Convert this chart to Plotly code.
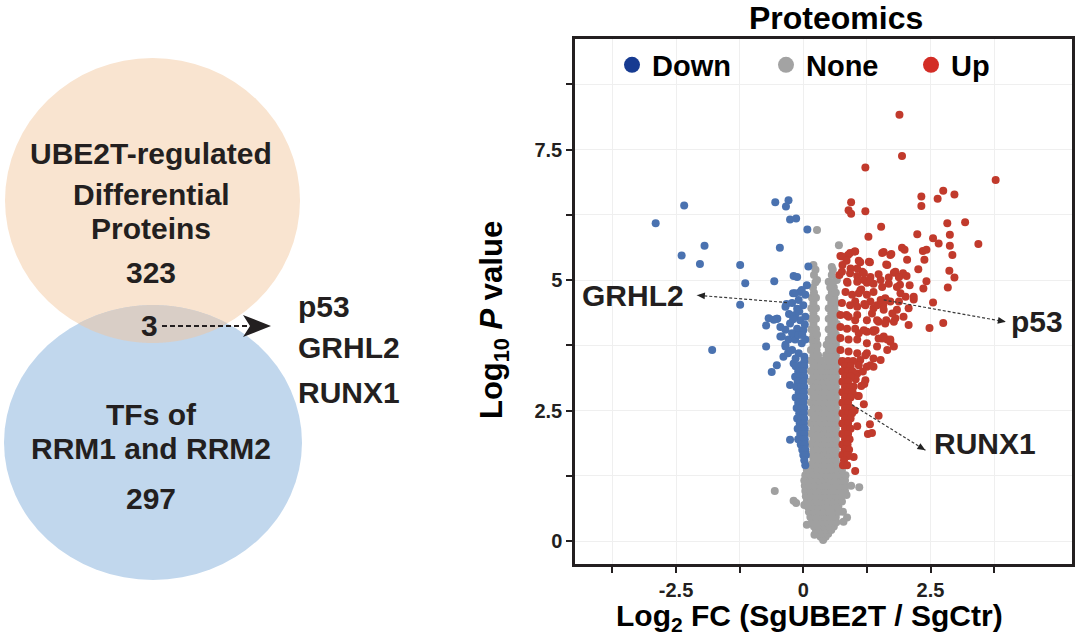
import numpy as np
import plotly.graph_objects as go

# ---------------- Venn data ----------------
SET_A_LINES = ["UBE2T-regulated", "Differential", "Proteins"]
SET_A_COUNT = 323
SET_B_LINES = ["TFs of", "RRM1 and RRM2"]
SET_B_COUNT = 297
OVERLAP_COUNT = 3
OVERLAP_GENES = ["p53", "GRHL2", "RUNX1"]

# ---------------- Volcano data (log2FC, -log10 P) ----------------
X_TICKS = [-2.5, 0, 2.5]
X_LABELS = ["-2.5", "0", "2.5"]
X_MINOR = [-3.75, -1.25, 1.25, 3.75]
Y_TICKS = [0, 2.5, 5, 7.5]
Y_LABELS = ["0", "2.5", "5", "7.5"]
Y_MINOR = [1.25, 3.75, 6.25, 8.75]
X_TITLE = "Log<sub>2</sub> FC (SgUBE2T / SgCtr)"
Y_TITLE = "Log<sub>10</sub> <i>P</i> value"
PLOT_TITLE = "Proteomics"

DOWN_PTS = [(-2.90, 6.09), (-2.34, 6.43), (-1.94, 5.66), (-2.39, 5.47), (-2.03, 5.31),
            (-1.24, 5.29), (-1.14, 4.94), (-1.24, 4.53), (-1.79, 3.66), (-0.55, 6.49),
            (-0.29, 6.53), (-0.34, 6.41), (-0.26, 6.16), (-0.14, 6.18), (0.08, 5.97),
            (-0.46, 5.62), (-0.57, 4.98), (-0.19, 5.08), (-0.12, 5.06), (0.10, 5.26),
            (0.07, 4.90), (-0.20, 4.75), (-0.06, 4.77), (-0.33, 4.54), (-0.68, 4.27),
            (-0.51, 4.26), (-0.73, 4.13), (-0.45, 3.92), (-0.73, 3.73), (-0.35, 3.76),
            (-0.52, 3.37), (-0.26, 2.99), (-0.62, 3.24), (-0.26, 1.94),
            (-0.16, 4.75), (-0.03, 4.81), (0.04, 4.72), (-0.09, 4.62), (-0.22, 4.56),
            (-0.35, 4.49), (0.00, 4.52), (-0.52, 4.26), (-0.58, 4.24), (-0.16, 4.33),
            (-0.06, 4.23), (0.04, 4.30), (-0.26, 4.17), (-0.12, 4.07), (0.00, 4.04),
            (-0.42, 3.92), (-0.29, 3.86), (-0.16, 3.86), (-0.03, 3.79), (0.04, 3.86),
            (-0.22, 3.66), (-0.09, 3.60), (0.02, 3.53), (-0.35, 3.73), (-0.19, 3.40),
            (-0.06, 3.37), (0.02, 3.44), (-0.39, 3.53), (-0.12, 4.45), (-0.28, 4.35),
            (-0.45, 4.10), (-0.35, 4.05), (-0.22, 3.98), (-0.10, 3.95), (0.03, 4.15),
            (-0.30, 3.60), (-0.15, 3.50), (-0.02, 3.95), (-0.08, 4.40), (-0.20, 4.25)]

DOWN_ROWS = [(3.35, [-0.15, -0.04, 0.02]), (3.25, [-0.10, 0.00]),
             (3.15, [-0.16, -0.05, 0.02]), (3.05, [-0.11, 0.00]),
             (2.95, [-0.14, -0.04, 0.02]), (2.85, [-0.09, 0.01]),
             (2.75, [-0.15, -0.05, 0.02]), (2.65, [-0.10, 0.00]),
             (2.55, [-0.13, -0.03, 0.02]), (2.45, [-0.08, 0.01]),
             (2.35, [-0.12, -0.03, 0.02]), (2.25, [-0.07, 0.01]),
             (2.15, [-0.11, -0.02, 0.03]), (2.05, [-0.06, 0.02]),
             (1.95, [-0.10, -0.01, 0.03]), (1.85, [-0.05, 0.03]),
             (1.75, [-0.02, 0.04]), (1.65, [0.00, 0.05]),
             (1.55, [0.02]), (1.45, [0.04])]

NONE_PTS = [(0.27, 5.96), (0.70, 5.67), (0.20, 5.29), (0.27, 5.00), (0.56, 5.25),
            (0.66, 5.00), (0.50, 4.97), (-0.56, 0.96), (-0.19, 0.77), (-0.14, 0.73),
            (0.02, 0.69), (0.07, 0.31), (0.22, 0.12), (0.94, 1.06), (1.10, 1.03),
            (0.85, 0.88), (0.86, 0.45), (0.79, 0.37), (0.78, 0.56)]

NONE_ROWS = [(0.02, [0.39]),
             (0.08, [0.34, 0.44]),
             (0.14, [0.29, 0.39, 0.49]),
             (0.21, [0.25, 0.35, 0.45, 0.55]),
             (0.28, [0.21, 0.31, 0.41, 0.51, 0.60]),
             (0.36, [0.17, 0.27, 0.37, 0.47, 0.57, 0.65]),
             (0.46, [0.14, 0.24, 0.34, 0.44, 0.54, 0.64]),
             (0.56, [0.11, 0.21, 0.31, 0.41, 0.51, 0.61, 0.70]),
             (0.66, [0.09, 0.19, 0.29, 0.39, 0.49, 0.59, 0.69]),
             (0.76, [0.07, 0.17, 0.27, 0.37, 0.47, 0.57, 0.67, 0.76]),
             (0.86, [0.05, 0.15, 0.25, 0.35, 0.45, 0.55, 0.65, 0.75]),
             (0.96, [0.04, 0.14, 0.24, 0.34, 0.44, 0.54, 0.64, 0.74, 0.82]),
             (1.06, [0.03, 0.13, 0.23, 0.33, 0.43, 0.53, 0.63, 0.73, 0.82]),
             (1.16, [0.02, 0.12, 0.22, 0.32, 0.42, 0.52, 0.62, 0.72, 0.82]),
             (1.26, [0.04, 0.14, 0.24, 0.34, 0.44, 0.54, 0.64, 0.74, 0.83]),
             (1.36, [0.07, 0.17, 0.27, 0.37, 0.47, 0.57, 0.67, 0.76]),
             (1.46, [0.15, 0.26, 0.37, 0.48, 0.59, 0.68]),
             (1.56, [0.20, 0.31, 0.42, 0.53, 0.64]),
             (1.66, [0.15, 0.26, 0.37, 0.48, 0.59, 0.68]),
             (1.76, [0.20, 0.31, 0.42, 0.53, 0.64]),
             (1.86, [0.15, 0.26, 0.37, 0.48, 0.59, 0.68]),
             (1.96, [0.20, 0.31, 0.42, 0.53, 0.64]),
             (2.06, [0.15, 0.26, 0.37, 0.48, 0.59, 0.68]),
             (2.16, [0.20, 0.31, 0.42, 0.53, 0.64]),
             (2.26, [0.15, 0.26, 0.37, 0.48, 0.59, 0.68]),
             (2.36, [0.20, 0.31, 0.42, 0.53, 0.64]),
             (2.46, [0.15, 0.26, 0.37, 0.48, 0.59, 0.68]),
             (2.56, [0.20, 0.31, 0.42, 0.53, 0.64]),
             (2.66, [0.15, 0.26, 0.37, 0.48, 0.59, 0.68]),
             (2.76, [0.20, 0.31, 0.42, 0.53, 0.64]),
             (2.86, [0.15, 0.26, 0.37, 0.48, 0.59, 0.68]),
             (2.96, [0.20, 0.31, 0.42, 0.53, 0.64]),
             (3.06, [0.15, 0.26, 0.37, 0.48, 0.59, 0.68]),
             (3.16, [0.20, 0.31, 0.43, 0.53, 0.64]),
             (3.26, [0.15, 0.26, 0.36, 0.48, 0.59, 0.68]),
             (3.36, [0.20, 0.30, 0.44, 0.53, 0.64]),
             (3.46, [0.15, 0.26, 0.35, 0.49, 0.59, 0.68]),
             (3.56, [0.20, 0.29, 0.45, 0.54, 0.64]),
             (3.66, [0.15, 0.26, 0.50, 0.60, 0.67]),
             (3.76, [0.20, 0.28, 0.46, 0.55, 0.64]),
             (3.86, [0.16, 0.25, 0.50, 0.61, 0.67]),
             (3.96, [0.20, 0.27, 0.55, 0.64]),
             (4.06, [0.16, 0.25, 0.50, 0.61]),
             (4.16, [0.20, 0.55, 0.66]),
             (4.26, [0.16, 0.25, 0.50, 0.61]),
             (4.36, [0.20, 0.55, 0.66]),
             (4.46, [0.16, 0.25, 0.50, 0.61]),
             (4.56, [0.20, 0.55, 0.65]),
             (4.66, [0.17, 0.25, 0.51, 0.61]),
             (4.76, [0.21, 0.56, 0.64]),
             (4.86, [0.19, 0.53, 0.60]),
             (4.96, [0.24, 0.58]),
             (5.10, [0.21, 0.56]),
             (5.20, [0.24, 0.58])]

UP_PTS = [(1.89, 8.17), (1.94, 7.38), (1.22, 7.16), (3.78, 6.92), (2.75, 6.71),
          (2.64, 6.56), (2.97, 6.64), (2.32, 6.60), (2.32, 6.42), (0.94, 6.49),
          (0.89, 6.34), (0.94, 6.27), (1.22, 6.32), (3.18, 6.11), (2.83, 6.09),
          (1.53, 6.02), (2.24, 5.88), (2.88, 5.87), (1.28, 5.83), (2.55, 5.80),
          (2.66, 5.70), (3.44, 5.69), (2.88, 5.66), (1.94, 5.62), (1.99, 5.58),
          (2.35, 5.56), (2.42, 5.58), (2.93, 5.48), (1.58, 5.54), (1.73, 5.50),
          (0.73, 5.46), (0.88, 5.48), (1.01, 5.55), (2.04, 5.39), (1.12, 5.34),
          (1.31, 5.34), (2.38, 5.39), (1.63, 5.30), (0.77, 5.29), (0.93, 5.22),
          (1.16, 5.16), (1.06, 5.08), (1.78, 5.14), (1.96, 5.13), (2.03, 5.08),
          (1.88, 5.06), (2.26, 5.21), (2.87, 5.18), (2.97, 5.05), (1.48, 5.11),
          (1.68, 5.05), (0.71, 5.10), (0.87, 4.95), (1.19, 5.00), (1.25, 4.95),
          (1.38, 4.93), (2.42, 4.98), (1.55, 4.87), (1.90, 4.91), (2.09, 4.90),
          (2.36, 4.84), (2.84, 4.86), (1.14, 4.82), (1.09, 4.75), (1.91, 4.75),
          (2.01, 4.68), (2.17, 4.63), (1.63, 4.62), (1.57, 4.52), (2.55, 4.57),
          (1.02, 4.59), (1.20, 4.54), (1.32, 4.59), (1.45, 4.52), (2.07, 4.14),
          (2.48, 4.08), (2.75, 4.18), (0.85, 4.33), (1.02, 4.23), (1.35, 4.36),
          (1.48, 4.20), (1.63, 4.23), (1.81, 4.27), (1.09, 3.98), (1.25, 4.01),
          (1.42, 4.04), (1.55, 3.88), (1.71, 3.82), (2.17, 4.68), (1.61, 4.65),
          (1.84, 4.43), (1.97, 4.30), (2.07, 4.46), (1.38, 4.04), (1.48, 3.88),
          (1.65, 3.86), (1.78, 3.73), (1.25, 3.60), (1.52, 3.47), (1.12, 3.47),
          (1.38, 3.34), (1.06, 3.21), (1.22, 3.08), (0.99, 2.96),
          (0.76, 5.45), (0.92, 5.52), (1.02, 5.55), (0.85, 5.37), (1.09, 5.37),
          (1.29, 5.35), (0.76, 5.16), (0.92, 5.13), (1.06, 5.22), (1.19, 5.13),
          (1.32, 5.06), (1.55, 5.52), (1.71, 5.48), (1.65, 5.29), (1.81, 5.16),
          (1.88, 5.06), (0.86, 4.97), (1.06, 4.97), (1.32, 4.97), (1.52, 5.00),
          (1.68, 4.93), (1.84, 4.87), (0.83, 4.77), (0.96, 4.72), (1.12, 4.80),
          (1.25, 4.72), (1.38, 4.77), (1.52, 4.62), (1.71, 4.59), (1.88, 4.59),
          (0.76, 4.56), (0.92, 4.52), (1.06, 4.49), (1.22, 4.52), (1.38, 4.46),
          (1.58, 4.43), (1.75, 4.36), (0.73, 4.33), (0.89, 4.30), (1.06, 4.33),
          (1.25, 4.23), (1.45, 4.23), (1.61, 4.17), (1.78, 4.20), (0.73, 4.10),
          (0.86, 4.07), (1.02, 4.07), (1.19, 4.04), (1.38, 4.01), (1.58, 3.92),
          (1.71, 3.86), (0.73, 3.89), (0.89, 3.86), (1.06, 3.86), (1.25, 3.79),
          (1.45, 3.73), (1.65, 3.66), (0.73, 3.66), (0.89, 3.63), (1.06, 3.60),
          (1.22, 3.56), (1.38, 3.50), (0.76, 3.43), (0.92, 3.40), (1.09, 3.37),
          (1.25, 3.34), (1.02, 1.34), (1.19, 2.62), (1.31, 2.24), (1.27, 2.05),
          (1.35, 2.07), (1.48, 2.40), (1.06, 2.20), (0.99, 1.61), (0.89, 1.63),
          (1.14, 2.97), (1.20, 3.01), (1.07, 2.78), (1.32, 3.37), (1.17, 3.25),
          (1.09, 2.78), (1.01, 2.50), (1.03, 3.10)]

UP_ROWS = [(3.45, [0.77, 0.88, 0.98]), (3.35, [0.82, 0.93]),
           (3.25, [0.77, 0.88, 0.97]), (3.15, [0.82, 0.93]),
           (3.05, [0.77, 0.88]), (2.95, [0.82, 0.93]),
           (2.85, [0.77, 0.88, 0.97]), (2.75, [0.82, 0.93]),
           (2.65, [0.77, 0.88]), (2.55, [0.82, 0.93]),
           (2.45, [0.77, 0.88, 0.96]), (2.35, [0.82, 0.93]),
           (2.25, [0.77, 0.88]), (2.15, [0.82, 0.93]),
           (2.05, [0.77, 0.88]), (1.95, [0.82, 0.91]),
           (1.85, [0.77, 0.87]), (1.75, [0.81, 0.90]),
           (1.65, [0.77, 0.86]), (1.55, [0.80]), (1.45, [0.78, 0.86])]

# gene labels: arrow tail (near the point), arrow head, and label position
LABELS = [
    dict(text="GRHL2", tail=(-0.32, 4.57), head=(-2.09, 4.71), pos=(-2.30, 4.71), anchor="right"),
    dict(text="p53", tail=(1.58, 4.62), head=(3.98, 4.20), pos=(4.04, 4.20), anchor="left"),
    dict(text="RUNX1", tail=(0.96, 2.61), head=(2.40, 1.74), pos=(2.52, 1.86), anchor="left"),
]


def flatten(pts, rows):
    xs = [p[0] for p in pts]
    ys = [p[1] for p in pts]
    for y, row in rows:
        for x in row:
            xs.append(x)
            ys.append(y)
    return xs, ys


down_x, down_y = flatten(DOWN_PTS, DOWN_ROWS)
none_x, none_y = flatten(NONE_PTS, NONE_ROWS)
up_x, up_y = flatten(UP_PTS, UP_ROWS)

FONT = "Liberation Sans, Arial, Helvetica, sans-serif"
INK = "#231f20"
COL_DOWN_PT, COL_NONE_PT, COL_UP_PT = "#4a72b0", "#a0a0a0", "#c13a2c"
COL_DOWN_LG, COL_NONE_LG, COL_UP_LG = "#173b91", "#a3a3a3", "#d32d26"

fig = go.Figure()

for xs, ys, c in [(none_x, none_y, COL_NONE_PT), (down_x, down_y, COL_DOWN_PT), (up_x, up_y, COL_UP_PT)]:
    fig.add_trace(go.Scatter(x=xs, y=ys, mode="markers", showlegend=False, hoverinfo="skip",
                             marker=dict(size=8, color=c, line=dict(width=0)),
                             xaxis="x", yaxis="y"))

for name, c, lg in [("Down", COL_DOWN_LG, "legend"), ("None", COL_NONE_LG, "legend2"), ("Up", COL_UP_LG, "legend3")]:
    fig.add_trace(go.Scatter(x=[None], y=[None], mode="markers", name=name, legend=lg,
                             marker=dict(size=16, color=c), xaxis="x", yaxis="y"))

W, H = 1080, 641
px_l, px_r, px_t, px_b = 575, 1072, 39, 564
X_RANGE = [-4.485, 5.28]
Y_RANGE = [-0.44, 9.62]
PPX = (px_r - px_l) / (X_RANGE[1] - X_RANGE[0])
PPY = (px_b - px_t) / (Y_RANGE[1] - Y_RANGE[0])

GRID = "#efefef"
axis_common = dict(showline=True, mirror=True, linewidth=2.5, linecolor=INK,
                   ticks="outside", ticklen=6, tickwidth=1.5, tickcolor=INK,
                   showgrid=True, gridcolor=GRID, gridwidth=1, zeroline=False,
                   tickfont=dict(family=FONT, size=20, color=INK, weight="bold"))

leg_common = dict(orientation="h", yanchor="middle", xanchor="left", y=(H - 65) / H,
                  bgcolor="rgba(0,0,0,0)", itemsizing="trace",
                  font=dict(family=FONT, size=29, color="black", weight="bold"))

fig.update_layout(
    width=W, height=H, margin=dict(l=0, r=0, t=0, b=0),
    paper_bgcolor="white", plot_bgcolor="white",
    xaxis=dict(domain=[px_l / W, px_r / W], range=X_RANGE, tickmode="array", tickvals=X_TICKS, ticktext=X_LABELS,
               minor=dict(tickmode="array", tickvals=X_MINOR, ticks="outside", ticklen=6, tickwidth=1.5,
                          tickcolor=INK, showgrid=True, gridcolor=GRID, gridwidth=1),
               anchor="y", **axis_common),
    yaxis=dict(domain=[(H - px_b) / H, (H - px_t) / H], range=Y_RANGE, tickmode="array", tickvals=Y_TICKS,
               ticktext=Y_LABELS,
               minor=dict(tickmode="array", tickvals=Y_MINOR, ticks="outside", ticklen=6, tickwidth=1.5,
                          tickcolor=INK, showgrid=True, gridcolor=GRID, gridwidth=1),
               anchor="x", **axis_common),
    xaxis2=dict(domain=[0, 0.5], range=[0, 540], visible=False, anchor="y2"),
    yaxis2=dict(domain=[0, 1], range=[H, 0], visible=False, anchor="x2"),
    legend=dict(x=612 / W, **leg_common),
    legend2=dict(x=766 / W, **leg_common),
    legend3=dict(x=911 / W, **leg_common),
)

# ---------------- Venn shapes ----------------
A = dict(cx=152.5, cy=200.5, rx=147.5, ry=142.5)
B = dict(cx=153.0, cy=442.5, rx=149.0, ry=137.5)
for e, col in [(A, "#f9e4d0"), (B, "#c1d7ed")]:
    fig.add_shape(type="circle", xref="x2", yref="y2", x0=e["cx"] - e["rx"], x1=e["cx"] + e["rx"],
                  y0=e["cy"] - e["ry"], y1=e["cy"] + e["ry"], fillcolor=col, line=dict(width=0), layer="below")


def inside(e, x, y):
    return ((x - e["cx"]) / e["rx"]) ** 2 + ((y - e["cy"]) / e["ry"]) ** 2 <= 1.0


t = np.linspace(0, 2 * np.pi, 1441)
ax_ = A["cx"] + A["rx"] * np.cos(t)
ay_ = A["cy"] + A["ry"] * np.sin(t)
ma = inside(B, ax_, ay_)
arcA = sorted(zip(ax_[ma], ay_[ma]), key=lambda p: p[0])
bx_ = B["cx"] + B["rx"] * np.cos(t)
by_ = B["cy"] + B["ry"] * np.sin(t)
mb = inside(A, bx_, by_)
arcB = sorted(zip(bx_[mb], by_[mb]), key=lambda p: -p[0])
lens = arcA + arcB
path = "M " + " L ".join(f"{x:.2f},{y:.2f}" for x, y in lens) + " Z"
fig.add_shape(type="path", xref="x2", yref="y2", path=path, fillcolor="#d9cec6", line=dict(width=0), layer="below")

# Venn arrow
fig.add_shape(type="line", xref="x2", yref="y2", x0=162, x1=252, y0=326, y1=326,
              line=dict(color=INK, width=2, dash="5px,3px"))
fig.add_shape(type="path", xref="x2", yref="y2", path="M 243,315 L 271,326 L 243,337 L 250,326 Z",
              fillcolor=INK, line=dict(width=0))


def venn_text(txt, x, y, anchor="center"):
    fig.add_annotation(text=txt, x=x, y=y, xref="x2", yref="y2", showarrow=False, xanchor=anchor,
                       yanchor="middle", font=dict(family=FONT, size=30, color=INK, weight="bold"))


for line, y in zip(SET_A_LINES, [153, 194, 228]):
    venn_text(line, 151, y)
venn_text(str(SET_A_COUNT), 151, 272)
for line, y in zip(SET_B_LINES, [414, 448]):
    venn_text(line, 151, y)
venn_text(str(SET_B_COUNT), 151, 498)
venn_text(str(OVERLAP_COUNT), 149, 325)
for g, y in zip(OVERLAP_GENES, [306, 347, 392]):
    venn_text(g, 296, y, anchor="left")

# ---------------- Volcano annotations ----------------
for lab in LABELS:
    (tx, ty), (hx, hy) = lab["tail"], lab["head"]
    fig.add_shape(type="line", xref="x", yref="y", x0=tx, y0=ty, x1=hx, y1=hy,
                  line=dict(color="#3a3a3a", width=1.2, dash="3px,2px"))
    # small arrowhead drawn in pixel units at the head
    dx, dy = (hx - tx) * PPX, (hy - ty) * PPY          # y positive up
    n = np.hypot(dx, dy)
    ux, uy = dx / n, dy / n
    L, Wd = 8.0, 3.4
    b1 = (-L * ux - Wd * uy, -L * uy + Wd * ux)
    b2 = (-L * ux + Wd * uy, -L * uy - Wd * ux)
    fig.add_shape(type="path", xref="x", yref="y", xsizemode="pixel", ysizemode="pixel",
                  xanchor=hx, yanchor=hy,
                  path=f"M 0,0 L {b1[0]:.2f},{b1[1]:.2f} L {b2[0]:.2f},{b2[1]:.2f} Z",
                  fillcolor="#222", line=dict(width=0))
    fig.add_annotation(x=lab["pos"][0], y=lab["pos"][1], xref="x", yref="y", text=lab["text"], showarrow=False,
                       xanchor=lab["anchor"], yanchor="middle",
                       font=dict(family=FONT, size=30, color=INK, weight="bold"))

fig.add_annotation(text=PLOT_TITLE, x=836 / W, y=(H - 18) / H, xref="paper", yref="paper", showarrow=False,
                   xanchor="center", yanchor="middle", font=dict(family=FONT, size=32, color="black", weight="bold"))
fig.add_annotation(text=X_TITLE, x=809 / W, y=(H - 617) / H, xref="paper",
                   yref="paper", showarrow=False, xanchor="center", yanchor="middle",
                   font=dict(family=FONT, size=30, color="black", weight="bold"))
fig.add_annotation(text=Y_TITLE, x=494 / W, y=(H - 320) / H, xref="paper",
                   yref="paper", showarrow=False, textangle=-90, xanchor="center", yanchor="middle",
                   font=dict(family=FONT, size=31, color="black", weight="bold"))

fig.write_html("out.html", config={"displayModeBar": False},
               post_script="document.body.style.margin='0px';")
